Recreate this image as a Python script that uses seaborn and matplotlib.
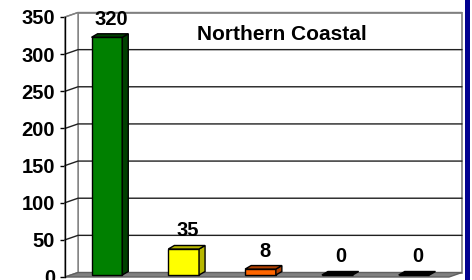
import matplotlib
matplotlib.use("Agg")
import matplotlib.pyplot as plt
import matplotlib.transforms as mtransforms
from matplotlib.patches import Polygon, Rectangle
import seaborn as sns

# chart data
categories = ["Class 1", "Class 2", "Class 3", "Class 4", "Class 5"]
counts = [320, 35, 8, 0, 0]
face_colors = ["#008000", "#FFFF00", "#FF6600", "#000000", "#000000"]
side_colors = ["#004000", "#B8B800", "#B04000", "#000000", "#000000"]
y_ticks = [0, 50, 100, 150, 200, 250, 300, 350]
title = "Northern Coastal"

sns.set_theme(style="white")
plt.rcParams["font.family"] = ["Liberation Sans", "DejaVu Sans"]
plt.rcParams["font.weight"] = "bold"

W, H = 472, 280
fig = plt.figure(figsize=(W / 100, H / 100), dpi=100)
fig.patch.set_facecolor("white")

# front plane of the 3D box
ax = fig.add_axes([65 / W, 3 / H, 384 / W, 260 / H])
ax.set_facecolor("none")

sns.barplot(x=categories, y=counts, hue=categories, palette=face_colors,
            legend=False, width=0.4, saturation=1, edgecolor="black",
            linewidth=1, ax=ax, zorder=3)
bars = list(ax.patches)

ax.set_xlim(-0.5, 4.5)
ax.set_ylim(0, 350)
ax.set_yticks(y_ticks)
ax.set_xticks([])
ax.set_xlabel("")
ax.set_ylabel("")
for s in ["top", "right", "bottom"]:
    ax.spines[s].set_visible(False)
ax.spines["left"].set_color("black")
ax.spines["left"].set_linewidth(1)
ax.spines["left"].set_zorder(5)
ax.tick_params(axis="y", left=True, length=3.6, width=1, color="black",
               pad=3.6, labelsize=14.5, labelcolor="black")
for t in ax.get_yticklabels():
    t.set_fontweight("bold")

# depth of the box and of the bars, in pixels
dx, dy = 13, 4.5
bdx, bdy = 6, 3.5
ident = mtransforms.IdentityTransform()

def to_px(trans, pts):
    return [tuple(p) for p in trans.transform(pts)]

(fl, fb), (fr, ft) = to_px(ax.transAxes, [(0, 0), (1, 1)])

# back wall
ax.add_patch(Polygon([(fl + dx, fb + dy), (fr + dx, fb + dy), (fr + dx, ft + dy),
                      (fl + dx, ft + dy)], closed=True, transform=ident,
                     facecolor="white", edgecolor="#808080", lw=1.2,
                     zorder=0.5, clip_on=False))
# left wall edge
ax.add_patch(Polygon([(fl, ft), (fl + dx, ft + dy), (fl + dx, fb + dy), (fl, fb)],
                     closed=True, transform=ident, facecolor="white",
                     edgecolor="#808080", lw=1, zorder=0.6, clip_on=False))

# gridlines on the back wall and the left wall
for v in y_ticks[1:]:
    _, yv = to_px(ax.transData, [(0, v)])[0]
    ax.plot([fl, fl + dx, fr + dx], [yv, yv + dy, yv + dy], transform=ident,
            color="#202020" if v < 350 else "#808080", lw=1, zorder=0.7,
            clip_on=False)

# floor
ax.add_patch(Polygon([(fl, fb), (fr, fb), (fr + dx, fb + dy), (fl + dx, fb + dy)],
                     closed=True, transform=ident, facecolor="#808080",
                     edgecolor="#606060", lw=1, zorder=1, clip_on=False))

# 3D faces for the bars
bar_shift = mtransforms.Affine2D().translate(3.5, 2)
bar_trans = ax.transData + bar_shift
for p, side, val in zip(bars, side_colors, counts):
    p.set_transform(bar_trans)
    x0, x1 = p.get_x(), p.get_x() + p.get_width()
    (px0, py0), (px1, py1) = to_px(bar_trans, [(x0, 0), (x1, val)])
    if val > 0:
        ax.add_patch(Polygon([(px1, py0), (px1 + bdx, py0 + bdy),
                              (px1 + bdx, py1 + bdy), (px1, py1)],
                             closed=True, transform=ident, facecolor=side,
                             edgecolor="black", lw=1, zorder=3.5, clip_on=False))
    ax.add_patch(Polygon([(px0, py1), (px1, py1), (px1 + bdx, py1 + bdy),
                          (px0 + bdx, py1 + bdy)],
                         closed=True, transform=ident, facecolor=side,
                         edgecolor="black", lw=1, zorder=3.6, clip_on=False))
    ax.text((x0 + x1) / 2, val, f"{val}", transform=bar_trans +
            mtransforms.Affine2D().translate(4, 18),
            ha="center", va="center", fontsize=14.5, fontweight="bold",
            color="black", zorder=6, clip_on=False)

fig.text(282 / W, 1 - 35 / H, title, ha="center", va="center",
         fontsize=15, fontweight="bold", color="black")

# blue frame strip at the right edge
fig.add_artist(Rectangle((465 / W, 0), 5 / W, 1, transform=fig.transFigure,
                         facecolor="#000090", edgecolor="none"))

fig.savefig("out.png", dpi=100)
